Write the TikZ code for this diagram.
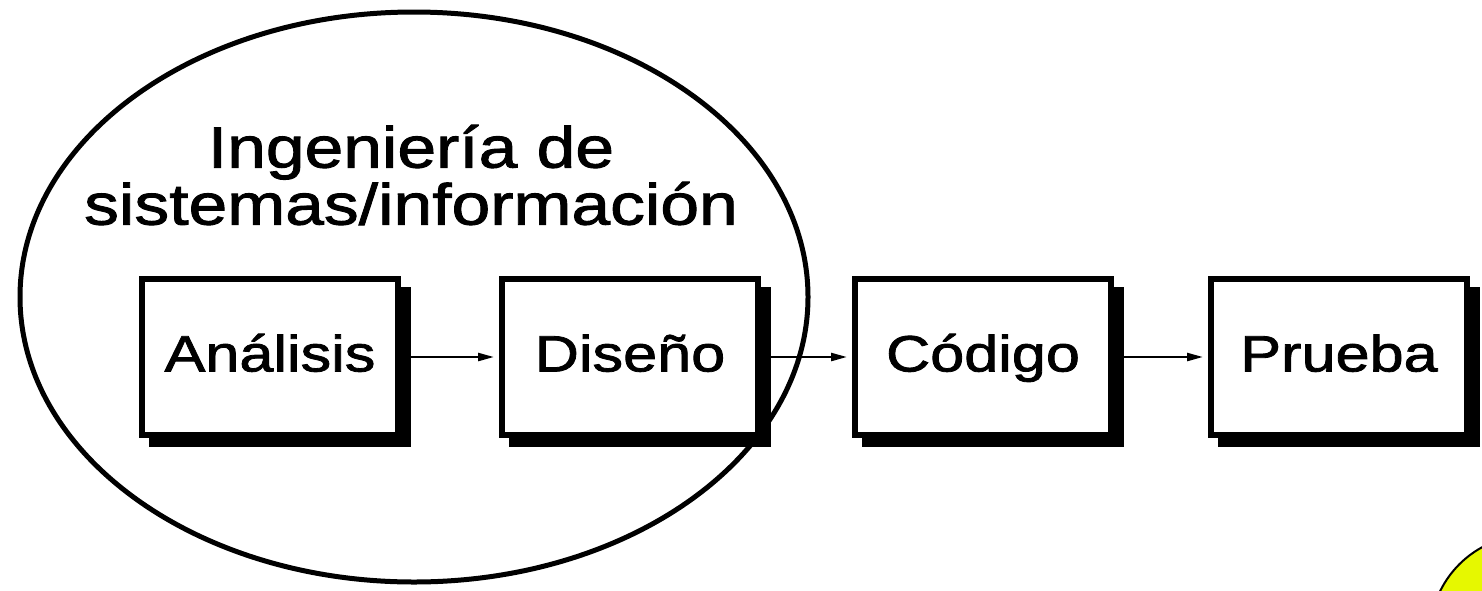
\documentclass[tikz,border=0pt]{standalone}
\usepackage{fontspec}
\setmainfont{Liberation Sans}
\newfontfamily\widesans[FakeStretch=1.2,FakeBold=1.6]{Liberation Sans}
\usetikzlibrary{arrows.meta,shapes.geometric}
\definecolor{hiyellow}{RGB}{230,248,0}
\begin{document}
\begin{tikzpicture}[x=0.5pt,y=-0.5pt,
  stagebox/.style={draw=black, line width=3pt, fill=white, minimum width=128pt, minimum height=78pt,
    inner sep=0pt, text height=18.4pt, text depth=4pt, font=\widesans\fontsize{25.5}{30}\selectfont},
  shade/.style={fill=black},
  flow/.style={line width=1.2pt, -{Triangle[length=8pt,width=4pt]}, shorten >=2.5pt},
  lbl/.style={font=\widesans\fontsize{29}{28.5}\selectfont, align=center, inner sep=0pt}]
\useasboundingbox (0,0) rectangle (1482,590);
\fill[white] (0,0) rectangle (1482,590);
% yellow circle
\draw[fill=hiyellow, line width=1pt] (1530,635) circle[radius=50pt];
% boxes: shadows first
\foreach \cx in {270,630,983,1339}
  \fill[shade] (\cx-121,287) rectangle (\cx+141,447);
\node[stagebox] (ana) at (270,357) {Análisis};
\node[stagebox] (dis) at (630,357) {Diseño};
\node[stagebox] (cod) at (983,357) {Código};
\node[stagebox] (pru) at (1339,357) {Prueba};
% ellipse
\node[draw, line width=2.5pt, ellipse, minimum width=394pt, minimum height=285pt, inner sep=0pt] (sys) at (414,297) {};
\node[lbl] (title) at (411,175) {Ingeniería de\\sistemas/información};
% arrows
\draw[flow] (ana.east) ++(10,0) coordinate (a1) -- (dis.west);
\draw[flow] (dis.east) ++(10,0) coordinate (a2) -- (cod.west);
\draw[flow] (cod.east) ++(10,0) coordinate (a3) -- (pru.west);
\end{tikzpicture}
\end{document}
